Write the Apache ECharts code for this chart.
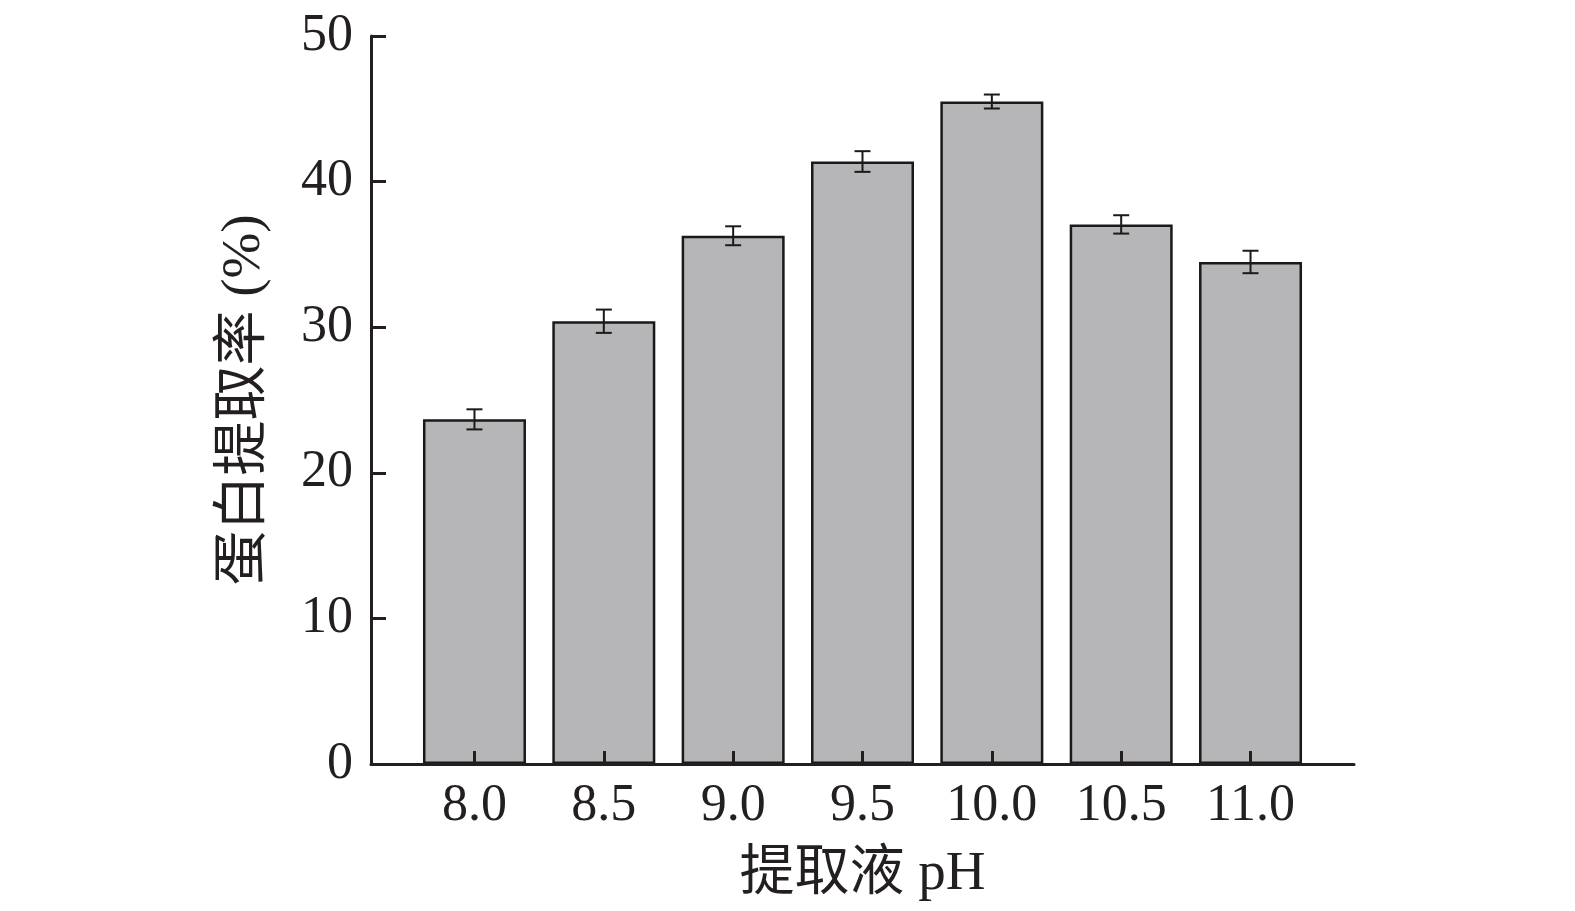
<!DOCTYPE html>
<html><head><meta charset="utf-8">
<script src="https://cdn.jsdelivr.net/npm/echarts@6/dist/echarts.min.js"></script>
<style>html,body{margin:0;padding:0;background:#fff}#c{width:1575px;height:911px}</style>
</head><body><div id="c"></div>
<script>
const categories = ["8.0","8.5","9.0","9.5","10.0","10.5","11.0"];
const values = [23.67, 30.41, 36.28, 41.38, 45.50, 37.06, 34.48];
const errors = [0.69, 0.80, 0.65, 0.71, 0.48, 0.63, 0.77];
const yTicks = [0, 10, 20, 30, 40, 50];
const xTitle = "提取液 pH";
const yTitle = "蛋白提取率 (%)";

const xs = categories.map(c => parseFloat(c));
const barData = xs.map((x, i) => [x, values[i]]);
const errData = xs.map((x, i) => [x, values[i] - errors[i], values[i] + errors[i]]);
const font = '"Liberation Serif", "Times New Roman", "Noto Sans CJK SC", serif';
const ink = '#231f20';

const chart = echarts.init(document.getElementById('c'));
chart.setOption({
  backgroundColor: '#fff',
  animation: false,
  grid: { left: 371, right: 221, top: 36, bottom: 147, containLabel: false },
  xAxis: {
    type: 'value', min: 7.6, max: 11.4, z: 10,
    name: xTitle, nameLocation: 'middle', nameGap: 83,
    nameTextStyle: { fontFamily: font, fontSize: 55, color: ink },
    splitLine: { show: false },
    axisLine: { show: true, onZero: false, lineStyle: { color: ink, width: 3 } },
    axisTick: { show: true, inside: true, length: 13, lineStyle: { color: ink, width: 3 }, customValues: xs },
    axisLabel: { customValues: xs, formatter: v => v.toFixed(1), fontFamily: font, fontSize: 52, color: ink, margin: 16 }
  },
  yAxis: {
    type: 'value', min: yTicks[0], max: yTicks[yTicks.length - 1], interval: 10, z: 10,
    name: yTitle, nameLocation: 'middle', nameGap: 99, nameRotate: 90,
    nameTextStyle: { fontFamily: font, fontSize: 55, color: ink },
    splitLine: { show: false },
    axisLine: { show: true, lineStyle: { color: ink, width: 3 } },
    axisTick: { show: true, inside: true, length: 15, lineStyle: { color: ink, width: 3 } },
    axisLabel: { fontFamily: font, fontSize: 52, color: ink, margin: 18 }
  },
  series: [
    {
      type: 'bar', data: barData, barWidth: 103,
      itemStyle: { color: '#b6b5b7', borderColor: '#1a1a1a', borderWidth: 2.5 },
      z: 1
    },
    {
      type: 'custom', data: errData, z: 3,
      renderItem: function (params, api) {
        const x = api.value(0);
        const lo = api.coord([x, api.value(1)]);
        const hi = api.coord([x, api.value(2)]);
        const hw = 8;
        const style = { stroke: '#1a1a1a', lineWidth: 2 };
        return { type: 'group', children: [
          { type: 'line', shape: { x1: lo[0], y1: lo[1], x2: hi[0], y2: hi[1] }, style },
          { type: 'line', shape: { x1: lo[0] - hw, y1: lo[1], x2: lo[0] + hw, y2: lo[1] }, style },
          { type: 'line', shape: { x1: hi[0] - hw, y1: hi[1], x2: hi[0] + hw, y2: hi[1] }, style }
        ]};
      }
    }
  ]
});
</script></body></html>
